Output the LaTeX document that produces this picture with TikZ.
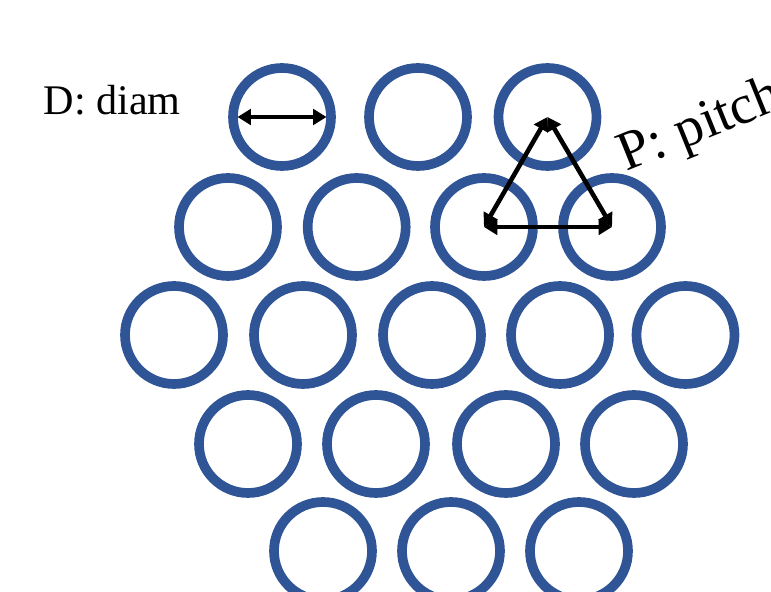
\documentclass[tikz,border=0pt]{standalone}
\usepackage{fontspec}
\setmainfont{Liberation Serif}
\usetikzlibrary{arrows.meta}
\definecolor{tubeblue}{RGB}{47,85,151}

\begin{document}
\begin{tikzpicture}[x=1cm,y=1cm,
  tube/.style={circle,draw=tubeblue,line width=2.75pt,minimum size=9.8mm,inner sep=0pt,outer sep=0pt},
  dimarrow/.style={{Triangle[length=3.8pt,width=4.4pt]}-{Triangle[length=3.8pt,width=4.4pt]},line width=1.3pt,black}]
  % Page frame, 771x592 at 100px per cm
  \clip (0,0) rectangle (7.71,5.92);

  % --- Tube bundle, rows top to bottom ---
  \foreach \n/\x in {1/2.82,2/4.18,3/5.475}
    \node[tube] (r1c\n) at (\x,4.75) {};
  \foreach \n/\x in {1/2.28,2/3.567,3/4.84,4/6.12}
    \node[tube] (r2c\n) at (\x,3.65) {};
  \foreach \n/\x in {1/1.74,2/3.03,3/4.32,4/5.60,5/6.855}
    \node[tube] (r3c\n) at (\x,2.57) {};
  \foreach \n/\x in {1/2.48,2/3.76,3/5.06,4/6.34}
    \node[tube] (r4c\n) at (\x,1.48) {};
  \foreach \n/\x in {1/3.23,2/4.51,3/5.79}
    \node[tube] (r5c\n) at (\x,0.41) {};

  % --- Diameter ---
  \node[font=\fontsize{12}{14}\selectfont,anchor=base west,inner sep=0pt] (dlabel) at (0.43,4.77) {D: diam};
  \draw[dimarrow] ([xshift=0.45mm]r1c1.west) -- ([xshift=-0.45mm]r1c1.east);

  % --- Pitch triangle ---
  \draw[dimarrow] (r1c3.center) -- (r2c3.center);
  \draw[dimarrow] (r2c3.center) -- (r2c4.center);
  \draw[dimarrow] (r2c4.center) -- (r1c3.center);
  \node[font=\fontsize{15.8}{18}\selectfont,anchor=base west,inner sep=0pt,rotate=22] (plabel) at (6.26,4.20) {P: pitch};

\end{tikzpicture}
\end{document}
